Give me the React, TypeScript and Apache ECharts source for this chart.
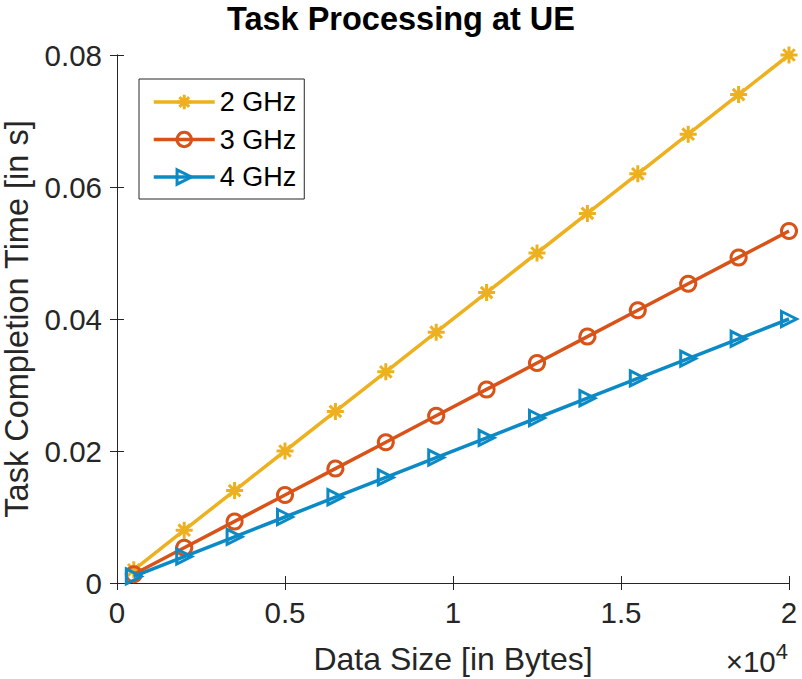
import React, { useEffect, useRef } from "react";
import * as echarts from "echarts";

const dataSizes = [500, 2000, 3500, 5000, 6500, 8000, 9500, 11000, 12500, 14000, 15500, 17000, 18500, 20000];
const time2GHz = [0.002, 0.008, 0.014, 0.02, 0.026, 0.032, 0.038, 0.044, 0.05, 0.056, 0.062, 0.068, 0.074, 0.08];
const time3GHz = [0.00133, 0.00533, 0.00933, 0.01333, 0.01733, 0.02133, 0.02533, 0.02933, 0.03333, 0.03733, 0.04133, 0.04533, 0.04933, 0.05333];
const time4GHz = [0.001, 0.004, 0.007, 0.01, 0.013, 0.016, 0.019, 0.022, 0.025, 0.028, 0.031, 0.034, 0.037, 0.04];
const seriesNames = ["2 GHz", "3 GHz", "4 GHz"];

const FONT = "'Liberation Sans', Arial, Helvetica, sans-serif";
const AX = "#262626";
const COLORS = ["#EDB120", "#D95319", "#0C8AC6"];
const SYMBOLS = [
  "path://M5 0L5 10M0 5L10 5M1.6 1.6L8.4 8.4M1.6 8.4L8.4 1.6",
  "path://M5 0A5 5 0 1 1 4.99 0Z",
  "path://M0 0L10 5L0 10Z",
];
const SIZES = [17, 15, 15];

export default function App() {
  const ref = useRef<HTMLDivElement>(null);
  useEffect(() => {
    if (!ref.current) return;
    const chart = echarts.init(ref.current, undefined, { renderer: "svg" });
    const allData = [time2GHz, time3GHz, time4GHz];
    const series = allData.map((vals, i) => ({
      name: seriesNames[i],
      type: "line",
      data: dataSizes.map((x, j) => [x, vals[j]]),
      symbol: SYMBOLS[i],
      symbolSize: SIZES[i],
      showAllSymbol: true,
      clip: false,
      lineStyle: { color: COLORS[i], width: 3.5 },
      itemStyle: { color: "rgba(255,255,255,0)", borderColor: COLORS[i], borderWidth: 3 },
      emphasis: { disabled: true },
      z: 2 + i,
    }));
    const tickStyle = { show: true, inside: true, length: 7, lineStyle: { color: AX, width: 1 } };
    chart.setOption({
      animation: false,
      backgroundColor: "#ffffff",
      title: {
        text: "Task Processing at UE",
        left: "center",
        top: -3,
        textStyle: { fontFamily: FONT, fontSize: 32.5, fontWeight: "bold", color: "#000" },
      },
      legend: {
        orient: "vertical",
        left: 139,
        top: 79,
        data: seriesNames,
        itemWidth: 61,
        itemHeight: 18,
        itemGap: 7.5,
        padding: [8, 8, 7, 13],
        backgroundColor: "#ffffff",
        borderColor: AX,
        borderWidth: 1,
        borderRadius: 0,
        lineStyle: { width: 3.5 },
        itemStyle: { borderWidth: 3 },
        textStyle: { fontFamily: FONT, fontSize: 27, color: "#000", lineHeight: 30 },
      },
      grid: { left: 117, right: 13, top: 55, bottom: 96, containLabel: false, outerBoundsMode: "none" },
      xAxis: [
        {
          type: "value",
          min: 0,
          max: 20000,
          interval: 5000,
          name: "Data Size [in Bytes]",
          nameLocation: "middle",
          nameGap: 60,
          nameTextStyle: { fontFamily: FONT, fontSize: 32, color: AX },
          axisLine: { show: true, lineStyle: { color: AX, width: 1 } },
          axisTick: tickStyle,
          splitLine: { show: false },
          axisLabel: {
            fontFamily: FONT,
            fontSize: 29.5,
            color: AX,
            margin: 14,
            formatter: (v: number) => String(v / 10000),
          },
        },
        {
          type: "value",
          position: "top",
          min: 0,
          max: 20000,
          interval: 5000,
          axisLine: { show: true, lineStyle: { color: AX, width: 1 } },
          axisTick: tickStyle,
          axisLabel: { show: false },
          splitLine: { show: false },
        },
      ],
      yAxis: [
        {
          type: "value",
          min: 0,
          max: 0.08,
          interval: 0.02,
          name: "Task Completion Time [in s]",
          nameLocation: "middle",
          nameGap: 80,
          nameTextStyle: { fontFamily: FONT, fontSize: 32.5, color: AX },
          axisLine: { show: true, lineStyle: { color: AX, width: 1 } },
          axisTick: tickStyle,
          splitLine: { show: false },
          axisLabel: { fontFamily: FONT, fontSize: 29.5, color: AX, margin: 15 },
        },
        {
          type: "value",
          position: "right",
          min: 0,
          max: 0.08,
          interval: 0.02,
          axisLine: { show: true, lineStyle: { color: AX, width: 1 } },
          axisTick: tickStyle,
          axisLabel: { show: false },
          splitLine: { show: false },
        },
      ],
      graphic: [
        {
          type: "text",
          right: 14,
          top: 640,
          style: {
            text: "{a|×10}{b|4}",
            fontFamily: FONT,
            rich: {
              a: { fontFamily: FONT, fontSize: 29.5, fill: AX, color: AX, verticalAlign: "bottom", lineHeight: 36 },
              b: { fontFamily: FONT, fontSize: 22, fill: AX, color: AX, verticalAlign: "top", lineHeight: 36, padding: [0, 0, 14, 0] },
            },
          },
        },
      ],
      series,
    });
    return () => chart.dispose();
  }, []);
  return <div ref={ref} style={{ position: "absolute", left: 0, top: 0, width: 802, height: 679 }} />;
}
